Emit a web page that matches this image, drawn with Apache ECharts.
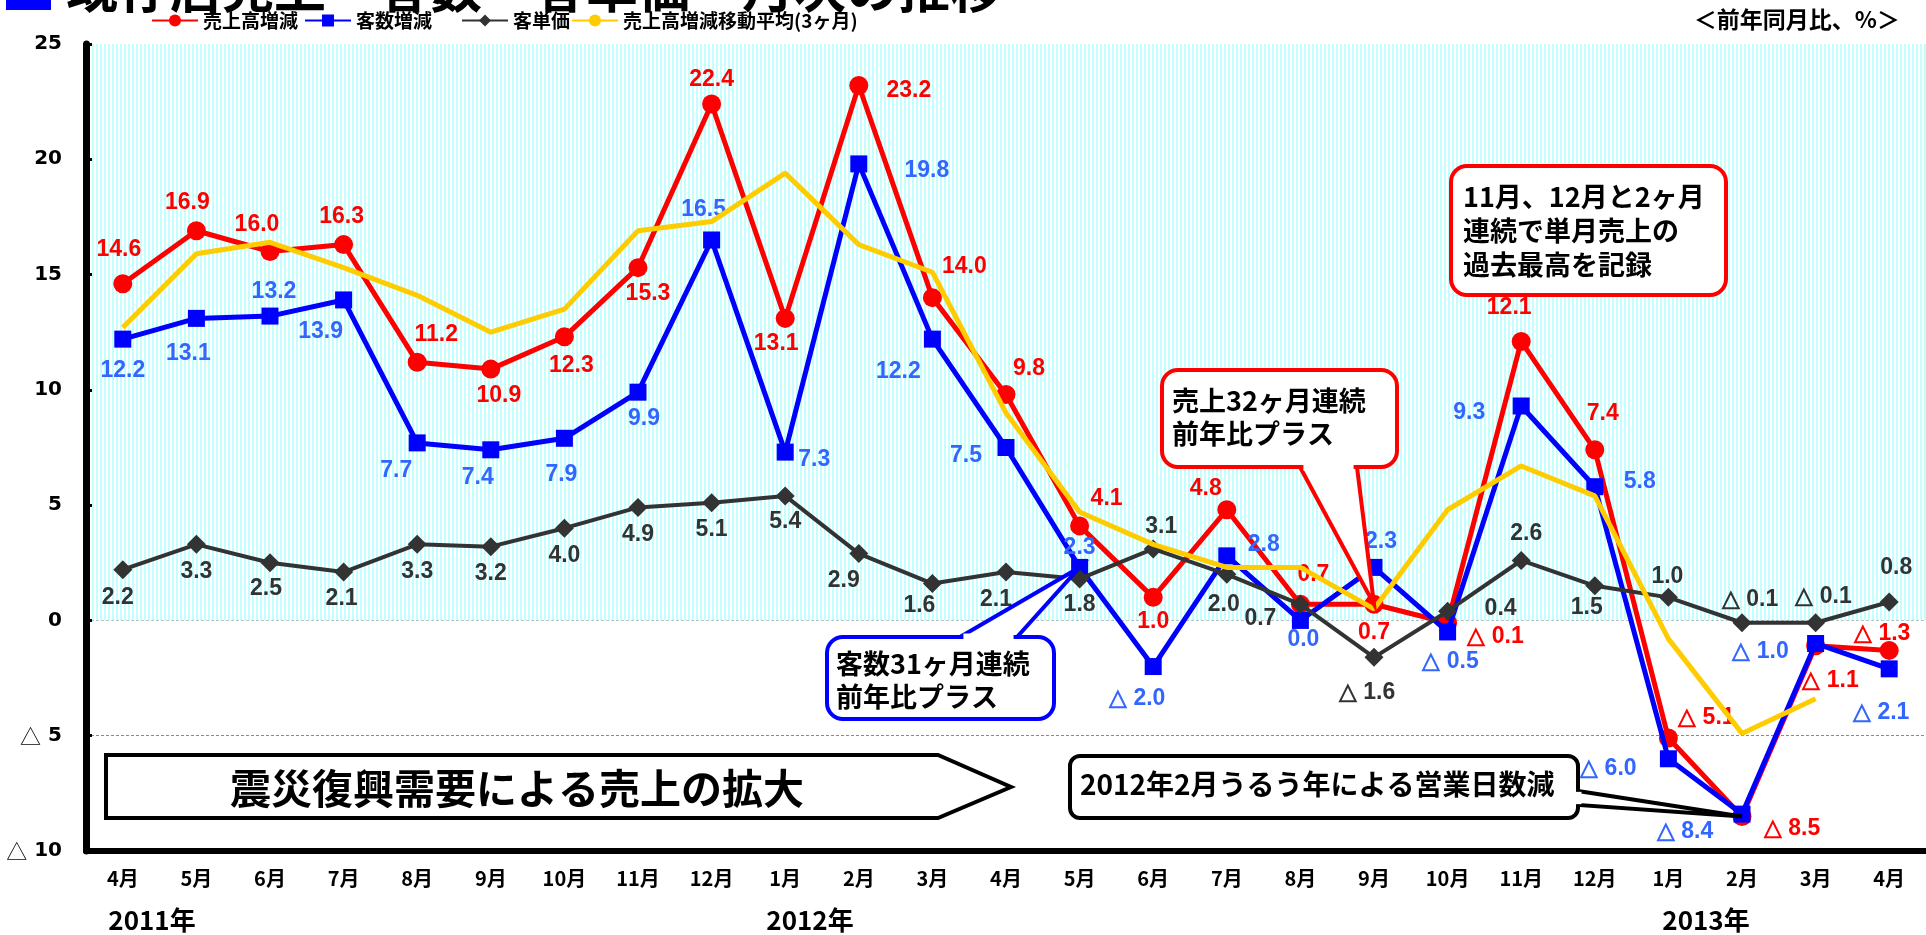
<!DOCTYPE html>
<html><head><meta charset="utf-8">
<script src="https://cdn.jsdelivr.net/npm/echarts@6/dist/echarts.min.js"></script>
<style>html,body{margin:0;padding:0;background:#fff}#c{width:1926px;height:935px}</style>
</head><body><div id="c"></div>
<script>
// ---- data ----
const months = ['4月','5月','6月','7月','8月','9月','10月','11月','12月','1月','2月','3月','4月','5月','6月','7月','8月','9月','10月','11月','12月','1月','2月','3月','4月'];
const sales = [14.6,16.9,16.0,16.3,11.2,10.9,12.3,15.3,22.4,13.1,23.2,14.0,9.8,4.1,1.0,4.8,0.7,0.7,-0.1,12.1,7.4,-5.1,-8.5,-1.1,-1.3];
const customers = [12.2,13.1,13.2,13.9,7.7,7.4,7.9,9.9,16.5,7.3,19.8,12.2,7.5,2.3,-2.0,2.8,0.0,2.3,-0.5,9.3,5.8,-6.0,-8.4,-1.0,-2.1];
const unitPrice = [2.2,3.3,2.5,2.1,3.3,3.2,4.0,4.9,5.1,5.4,2.9,1.6,2.1,1.8,3.1,2.0,0.7,-1.6,0.4,2.6,1.5,1.0,-0.1,-0.1,0.8];
const salesMA = [12.7,15.9,16.4,15.3,14.1,12.5,13.5,16.9,17.3,19.4,16.3,15.1,9.0,4.7,3.3,2.3,2.3,0.5,4.8,6.7,5.4,-0.8,-4.9,-3.4,null];
const seriesNames = ['売上高増減','客数増減','客単価','売上高増減移動平均(3ヶ月)'];
const yMin = -10, yMax = 25, yStep = 5;
const yearLabels = ['2011年','2012年','2013年'];
const titleText = '既存店売上・客数・客単価　月次の推移';
const unitLabel = '＜前年同月比、%＞';
const noteRecord = '11月、12月と2ヶ月\n連続で単月売上の\n過去最高を記録';
const noteSales = '売上32ヶ月連続\n前年比プラス';
const noteCust = '客数31ヶ月連続\n前年比プラス';
const noteQuake = '震災復興需要による売上の拡大';
const noteLeap = '2012年2月うるう年による営業日数減';

// ---- label placement (offsets from point centre, px) ----
const salesOff = [[-4,-34],[-9,-28],[-13,-27],[-2,-28],[19,-28],[8,27],[7,29],[10,26],[0,-24],[-9,25],[50,5],[32,-31],[23,-26],[27,-27],[0,24],[-21,-21],[13,-30],[0,28],[48,14],[-12,-34],[8,-36],[38,-20],[50,12],[15,35],[-7,-17]];
const custOff = [[0,32],[-8,35],[4,-24],[-23,32],[-21,28],[-13,28],[-3,36],[6,26],[-8,-30],[29,8],[68,7],[-34,33],[-40,8],[0,-20],[-16,32],[37,-11],[3,19],[7,-26],[3,30],[-52,7],[45,-5],[-60,10],[-57,18],[-55,8],[-8,44]];
const unitOff = [[-5,28],[0,27],[-4,26],[-2,27],[0,27],[0,27],[0,27],[0,27],[0,27],[0,26],[-15,27],[-13,22],[-10,28],[0,26],[8,-22],[-3,30],[-40,14],[-7,35],[53,-3],[5,-27],[-8,22],[-1,-21],[8,-23],[8,-26],[7,-34]];

const fmt = v => (v == null ? '' : (v < 0 ? '△ ' + Math.abs(v).toFixed(1) : v.toFixed(1)));
const numFont = "'Liberation Sans', Arial, sans-serif";
const jpFont = "'Noto Sans CJK JP', sans-serif";

// stripe pattern for the positive area
const pc = document.createElement('canvas'); pc.width = 4; pc.height = 4;
const pg = pc.getContext('2d');
pg.fillStyle = '#ffffff'; pg.fillRect(0,0,4,4);
pg.fillStyle = '#c4ffff'; pg.fillRect(0,0,2,4);

function withLabels(vals, offs) {
  return vals.map((v,i) => ({ value: v, label: { offset: offs[i] } }));
}
function lbl(color) {
  return { show: true, position: 'inside', formatter: p => fmt(p.value), color: color,
           fontFamily: numFont, fontWeight: 'bold', fontSize: 23, textBorderWidth: 0 };
}

const chart = echarts.init(document.getElementById('c'));
const legendBase = { top: 6, itemWidth: 46, itemHeight: 15, itemGap: 0,
  textStyle: { fontFamily: jpFont, fontWeight: 'bold', fontSize: 19, color: '#000' } };

chart.setOption({
  animation: false,
  backgroundColor: '#fff',
  grid: { left: 86, top: 44, width: 1848, height: 807 },
  legend: [
    Object.assign({ left: 146, data: [seriesNames[0]] }, legendBase),
    Object.assign({ left: 299, data: [seriesNames[1]] }, legendBase),
    Object.assign({ left: 456, data: [seriesNames[2]] }, legendBase),
    Object.assign({ left: 566, data: [seriesNames[3]] }, legendBase)
  ],
  xAxis: {
    type: 'category', data: months, boundaryGap: true, z: 1,
    axisLine: { onZero: false, lineStyle: { color: '#000', width: 6 } },
    axisTick: { inside: true, length: 5, lineStyle: { color: '#000', width: 3 } },
    axisLabel: { margin: 17, color: '#000', fontFamily: jpFont, fontWeight: 'bold', fontSize: 20 },
    splitLine: { show: false }
  },
  yAxis: {
    type: 'value', min: yMin, max: yMax, interval: yStep, z: 1,
    axisLine: { show: true, lineStyle: { color: '#000', width: 7 } },
    axisTick: { show: true, inside: true, length: 6, lineStyle: { color: '#000', width: 3 } },
    axisLabel: { margin: 24, color: '#000', fontFamily: "'DejaVu Sans', sans-serif", fontWeight: 'bold', fontSize: 20,
      formatter: v => (v < 0 ? '{t|△} ' + (-v) : String(v)),
      rich: { t: { fontFamily: jpFont, fontSize: 21, fontWeight: 'normal', color: '#000' } } },
    splitLine: { show: true, lineStyle: { color: '#8a8a8a', width: 1, type: [3, 2] } }
  },
  series: [
    { name: '_bg', type: 'line', data: [], silent: true, z: 0,
      markArea: { silent: true, itemStyle: { color: { image: pc, repeat: 'repeat' } },
        data: [[{ yAxis: 0 }, { yAxis: yMax }]] } },
    { name: seriesNames[0], type: 'line', z: 2, data: withLabels(sales, salesOff),
      symbol: 'circle', symbolSize: 19,
      lineStyle: { color: '#ff0000', width: 5 }, itemStyle: { color: '#ff0000' },
      label: lbl('#ff0000') },
    { name: seriesNames[1], type: 'line', z: 3, data: withLabels(customers, custOff),
      symbol: 'rect', symbolSize: 17,
      lineStyle: { color: '#0000ff', width: 5 }, itemStyle: { color: '#0000ff' },
      label: lbl('#3366ff') },
    { name: seriesNames[2], type: 'line', z: 4, data: withLabels(unitPrice, unitOff),
      symbol: 'diamond', symbolSize: 19,
      lineStyle: { color: '#333333', width: 4 }, itemStyle: { color: '#333333' },
      label: lbl('#333333') },
    { name: seriesNames[3], type: 'line', z: 5, data: salesMA, symbol: 'none',
      lineStyle: { color: '#ffcc00', width: 5 }, itemStyle: { color: '#ffcc00' } }
  ]
});

// ---- annotations ----
const P = (i, v) => chart.convertToPixel({ xAxisIndex: 0, yAxisIndex: 0 }, [i, v]);
const tipSales = P(17, sales[17]);
const tipCust = P(13, customers[13]);
const tipLeap = P(22, sales[22]);

function callout(box, color, base1, base2, tip, lw) {
  return [
    { type: 'rect', shape: { x: box[0], y: box[1], width: box[2]-box[0], height: box[3]-box[1], r: box[4] },
      style: { fill: '#fff', stroke: color, lineWidth: lw }, z: 100 },
    { type: 'polygon', shape: { points: [base1, tip, base2] },
      style: { fill: '#fff', stroke: color, lineWidth: lw, lineJoin: 'miter' }, z: 101 },
    { type: 'line', shape: { x1: base1[0] + (base2[0]-base1[0])*0.06, y1: base1[1] + (base2[1]-base1[1])*0.06,
                              x2: base2[0] - (base2[0]-base1[0])*0.06, y2: base2[1] - (base2[1]-base1[1])*0.06 },
      style: { stroke: '#fff', lineWidth: lw + 3 }, z: 102 }
  ];
}
const jpText = (x, y, text, size, extra) => Object.assign({ type: 'text', x: x, y: y, z: 110,
  style: Object.assign({ text: text, fill: '#000', font: 'bold ' + size + 'px ' + jpFont }, extra || {}) });

const els = [];
// cut-off title
els.push({ type: 'rect', shape: { x: 6, y: -30, width: 45, height: 40 }, style: { fill: '#0000ff' }, z: 110 });
els.push(jpText(66, 14, titleText, 52, { verticalAlign: 'bottom' }));
// record box
els.push({ type: 'rect', shape: { x: 1451, y: 166, width: 275, height: 129, r: 16 },
  style: { fill: '#fff', stroke: '#ff0000', lineWidth: 4 }, z: 100 });
els.push(jpText(1463, 180, noteRecord, 27, { lineHeight: 34 }));
// sales 32 months
els.push(...callout([1162, 370, 1397, 467, 16], '#ff0000', [1300, 467], [1357, 467], tipSales, 4));
els.push(jpText(1172, 384, noteSales, 27, { lineHeight: 33 }));
// customers 31 months
els.push(...callout([827, 637, 1054, 719, 16], '#0000ff', [960, 637], [1017, 637], tipCust, 4));
els.push(jpText(836, 647, noteCust, 27, { lineHeight: 33 }));
// leap year
els.push(...callout([1070, 756, 1578, 818, 10], '#000', [1578, 791], [1578, 805], tipLeap, 4));
els.push(jpText(1080, 770, noteLeap, 28));
// big arrow
els.push({ type: 'polygon', shape: { points: [[106,755],[938,755],[1011,787],[938,818],[106,818]] },
  style: { fill: '#fff', stroke: '#000', lineWidth: 4 }, z: 100 });
els.push(jpText(517, 788, noteQuake, 41, { align: 'center', verticalAlign: 'middle' }));
// unit label + years
els.push(jpText(1900, 19, unitLabel, 23, { align: 'right', verticalAlign: 'middle' }));
els.push(jpText(152, 920, yearLabels[0], 26, { align: 'center', verticalAlign: 'middle' }));
els.push(jpText(810, 920, yearLabels[1], 26, { align: 'center', verticalAlign: 'middle' }));
els.push(jpText(1706, 920, yearLabels[2], 26, { align: 'center', verticalAlign: 'middle' }));

chart.setOption({ graphic: { elements: els } });
</script></body></html>
